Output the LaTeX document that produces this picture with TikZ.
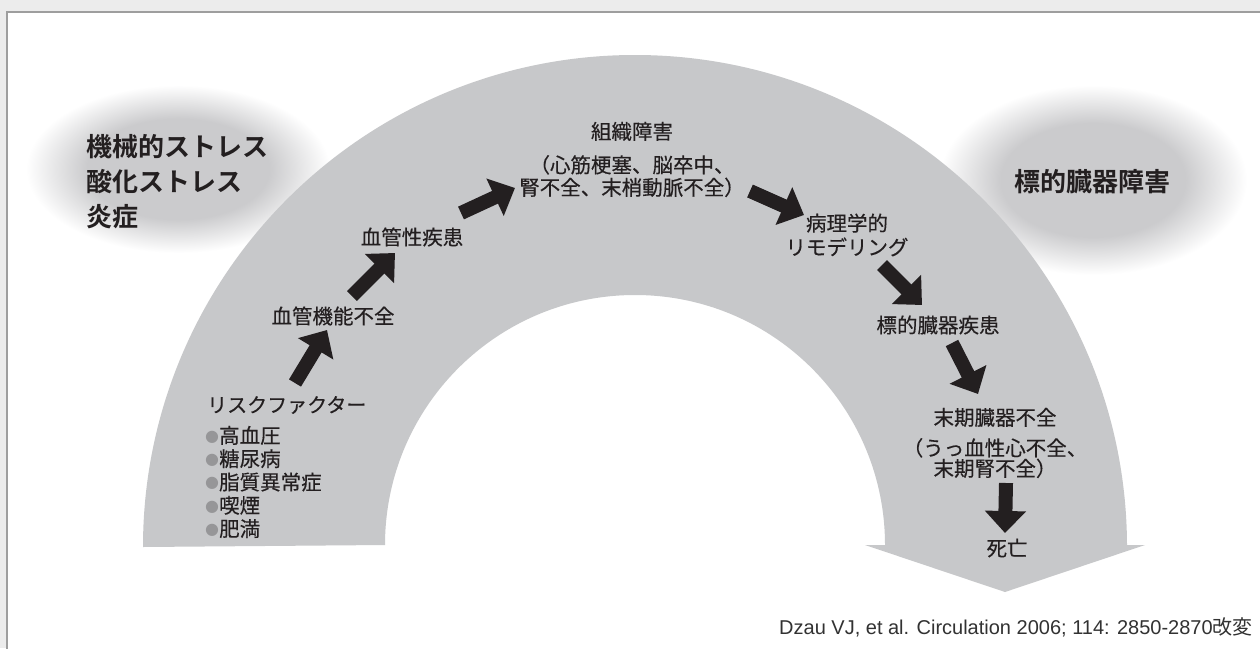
\documentclass[tikz,border=0pt]{standalone}
\usepackage{fontspec}
\usetikzlibrary{arrows.meta}
\newfontfamily\jp{Noto Sans CJK JP}[FakeBold=0.35,BoldFont={Noto Sans CJK JP Bold}]
\newfontfamily\jpr{Noto Sans CJK JP}
\newfontfamily\jpb{Noto Sans CJK JP Bold}
\newfontfamily\citefont{Liberation Sans}
\newfontfamily\dotfont{DejaVu Sans}
\definecolor{bandgray}{RGB}{199,200,202}
\definecolor{cloudgray}{RGB}{203,203,205}
\definecolor{bggray}{RGB}{236,236,236}
\definecolor{framegray}{RGB}{158,158,158}
\definecolor{dotgray}{RGB}{150,150,152}
\definecolor{ink}{RGB}{35,31,32}
\definecolor{citeink}{RGB}{50,50,50}
\pgfdeclareradialshading{cloudshade}{\pgfpoint{0bp}{0bp}}{color(0bp)=(cloudgray); color(15bp)=(cloudgray); color(25bp)=(white); color(50bp)=(white)}
\newcommand\gdot{\raisebox{2pt}{\dotfont\fontsize{16}{16}\selectfont\textcolor{dotgray}{●}}\hspace{0pt}}
\begin{document}
\begin{tikzpicture}[x=1pt,y=-1pt,
  lab/.style={font=\jp\fontsize{20.5}{23}\selectfont, text=ink, inner sep=0pt, align=center},
  cloudtxt/.style={font=\jpb\fontsize{26}{35}\selectfont, text=ink, inner sep=0pt},
  blkarrow/.style={draw=ink, line width=14pt, -{Triangle[length=22pt,width=40pt]}},
  cloudbg/.style={shading=cloudshade}]
\useasboundingbox (0,0) rectangle (1260,648);
% page background and frame
\fill[bggray] (0,0) rectangle (1260,648);
\filldraw[fill=white, draw=framegray, line width=1.5pt] (7,12) rectangle (1275,665);
% clouds
\shade[cloudbg] (178,169) ellipse [x radius=152, y radius=84];
\shade[cloudbg] (1093,180) ellipse [x radius=154, y radius=95];
% arc band with arrow head
\fill[bandgray] (143,547) arc[start angle=180, end angle=360, radius=492]
  -- (1127,545) -- (1145,545) -- (1005,592) -- (865,545) -- (885,545)
  arc[start angle=0, end angle=-180, radius=250] -- cycle;
% cloud texts
\node[cloudtxt, anchor=west, align=left] (stress) at (86,182) {機械的ストレス\\酸化ストレス\\炎症};
\node[cloudtxt] (organdmg) at (1092,182) {標的臓器障害};
% labels
\node[lab, anchor=west] (rf) at (207,405) {\fontsize{20}{23}\selectfont リスクファクター};
\node[lab, anchor=west, align=left, font=\jp\fontsize{20.5}{23.3}\selectfont] (rflist) at (205,482)
  {\gdot 高血圧\\\gdot 糖尿病\\\gdot 脂質異常症\\\gdot 喫煙\\\gdot 肥満};
\node[lab] (vdys) at (333,316) {血管機能不全};
\node[lab] (vdis) at (412,237) {血管性疾患};
\node[lab, font=\jp\fontsize{20.5}{22.5}\selectfont] (tissue) at (632,159.5) {組織障害\\[11pt]（心筋梗塞、脳卒中、\\腎不全、末梢動脈不全）};
\node[lab, font=\jp\fontsize{20.5}{24}\selectfont] (remodel) at (847,235) {病理学的\\リモデリング};
\node[lab] (organdis) at (938,325) {標的臓器疾患};
\node[lab, font=\jp\fontsize{20.5}{20.5}\selectfont] (endstage) at (995,443) {末期臓器不全\\[10pt]（うっ血性心不全、\\末期腎不全）};
\node[lab] (death) at (1007,548) {死亡};
\node[anchor=base east, inner sep=0pt, text=citeink, font=\citefont\fontsize{20}{24}\selectfont] (cite) at (1253,634)
  {Dzau VJ, et al. Circulation 2006; 114: 2850-2870{\jpr 改変}};
% block arrows
\coordinate (a1s) at (295,383); \coordinate (a1e) at (327,330);
\coordinate (a2s) at (352,296); \coordinate (a2e) at (395,253);
\coordinate (a3s) at (461,213); \coordinate (a3e) at (515,188);
\coordinate (a4s) at (750,191); \coordinate (a4e) at (804,215);
\coordinate (a5s) at (882,265); \coordinate (a5e) at (922,305);
\coordinate (a6s) at (952,343); \coordinate (a6e) at (978,394);
\coordinate (a7s) at (1006,483); \coordinate (a7e) at (1005,533);
\draw[blkarrow] (a1s) -- (a1e);
\draw[blkarrow] (a2s) -- (a2e);
\draw[blkarrow] (a3s) -- (a3e);
\draw[blkarrow] (a4s) -- (a4e);
\draw[blkarrow] (a5s) -- (a5e);
\draw[blkarrow] (a6s) -- (a6e);
\draw[blkarrow] (a7s) -- (a7e);
\end{tikzpicture}
\end{document}
